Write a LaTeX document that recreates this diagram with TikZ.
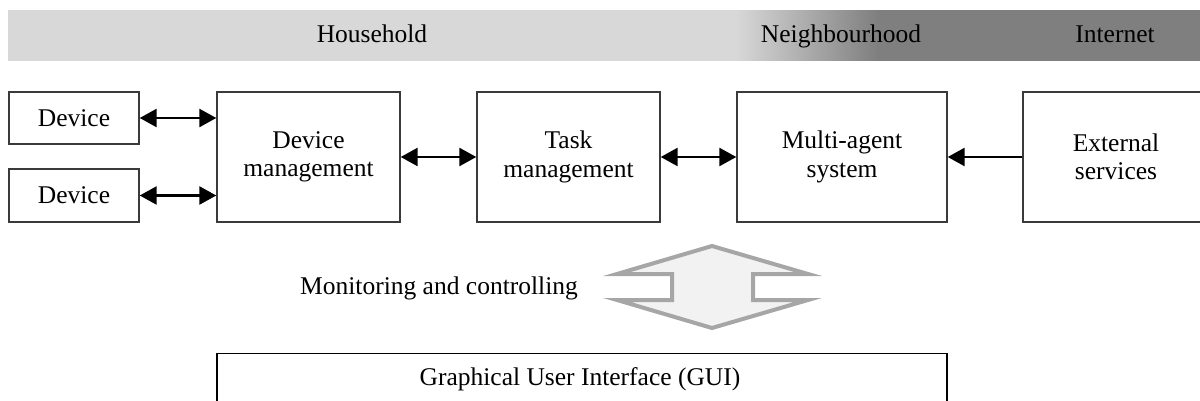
\documentclass[tikz,border=0pt]{standalone}
\usepackage{fontspec}
\setmainfont{Liberation Serif}
\usetikzlibrary{arrows.meta}
\definecolor{barlight}{HTML}{D8D8D8}
\definecolor{bardark}{HTML}{7F7F7F}
\definecolor{boxline}{HTML}{3A3A3A}
\definecolor{hollowline}{HTML}{A6A6A6}
\definecolor{hollowfill}{HTML}{F2F2F2}
\tikzset{
  box/.style={draw=boxline, line width=1.4pt, rectangle, inner sep=0pt, align=center,
    font=\fontsize{25.5}{28.5}\selectfont},
  lbl/.style={inner sep=0pt, anchor=base, font=\fontsize{25.5}{28.5}\selectfont},
  conn/.style={line width=2.6pt, black, {Triangle[length=17pt,width=18pt]}-{Triangle[length=17pt,width=18pt]}},
  conn1/.style={line width=2.6pt, black, -{Triangle[length=17pt,width=18pt]}},
  hollow/.style={draw=hollowline, fill=hollowfill, line width=4pt, line join=miter}
}
\begin{document}
\begin{tikzpicture}[x=1pt,y=-1pt]
\useasboundingbox (0,0) rectangle (1200,401);
\clip (0,0) rectangle (1200,401);
% top bar
\fill[barlight] (8,10) rectangle (736,61);
\foreach \i in {0,...,71} {
  \pgfmathsetmacro{\p}{\i*100/71}
  \fill[bardark!\p!barlight] ({735+\i*2},10) rectangle ({738+\i*2},61);
}
\fill[bardark] (878,10) rectangle (1200,61);
\node[lbl] (household) at (372,43) {Household};
\node[lbl] (neigh) at (841,43) {Neighbourhood};
\node[lbl] (internet) at (1115,43) {Internet};
% boxes
\node[box, minimum width=130pt, minimum height=52pt] (dev1) at (74,118) {Device};
\node[box, minimum width=130pt, minimum height=53pt] (dev2) at (74,195.5) {Device};
\node[box, minimum width=183pt, minimum height=130pt] (dm) at (308.5,157) {Device\\management};
\node[box, minimum width=183pt, minimum height=130pt] (tm) at (568.5,157) {Task\\management};
\node[box, minimum width=210pt, minimum height=130pt] (mas) at (842,157) {Multi-agent\\system};
\node[box, minimum width=186pt, minimum height=130pt] (ext) at (1116,157) {External\\services};
% connectors
\draw[conn] (dev1.east) -- (dev1.east -| dm.west);
\draw[conn] (dev2.east) -- (dev2.east -| dm.west);
\draw[conn] (dm.east) -- (tm.west);
\draw[conn] (tm.east) -- (mas.west);
\draw[conn1] (ext.west) -- (mas.east);
% hollow double arrow
\draw[hollow] (712,246) -- (808,274) -- (753,274) -- (753,300) -- (808,300) -- (712,328)
  -- (617,300) -- (672,300) -- (672,274) -- (617,274) -- cycle;
\node[lbl] (mon) at (439,294) {Monitoring and controlling};
% GUI
\node[draw=black, line width=1.6pt, minimum width=730pt, minimum height=80pt, anchor=north, inner sep=0pt] (gui) at (582,352.7) {};
\node[lbl] (guitext) at (580,385) {Graphical User Interface (GUI)};
\end{tikzpicture}
\end{document}
